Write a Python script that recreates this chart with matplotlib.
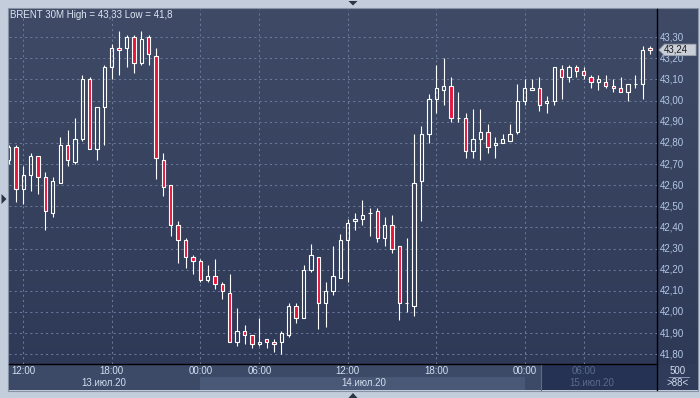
import matplotlib
matplotlib.use("Agg")
import matplotlib.pyplot as plt
import numpy as np
from matplotlib.patches import Rectangle, Polygon
from matplotlib.transforms import blended_transform_factory

# ---------------- data ----------------
opens = [42.72, 42.78, 42.58, 42.65, 42.74, 42.64, 42.47, 42.61, 42.79, 42.71,
         42.82, 43.10, 42.77, 42.97, 43.16, 43.25, 43.25, 43.30, 43.18, 43.30,
         43.21, 42.72, 42.60, 42.41, 42.34, 42.26, 42.24, 42.15, 42.17, 42.13,
         42.09, 41.86, 41.91, 41.89, 41.85, 41.87, 41.86, 41.86, 41.89, 42.03,
         41.97, 42.20, 42.26, 42.04, 42.10, 42.16, 42.34, 42.43, 42.44, 42.47,
         42.48, 42.35, 42.41, 42.31, 42.04, 42.03, 42.62, 42.84, 43.01, 43.05,
         43.07, 42.92, 42.92, 42.76, 42.82, 42.85, 42.79, 42.80, 42.81, 42.85,
         43.00, 43.05, 43.06, 42.99, 43.00, 43.15, 43.11, 43.16, 43.14, 43.11,
         43.09, 43.09, 43.07, 43.06, 43.04, 43.08, 43.08, 43.25]
highs = [42.79, 42.79, 42.69, 42.75, 42.74, 42.66, 42.64, 42.83, 42.86, 42.92,
         43.12, 43.11, 42.97, 43.17, 43.27, 43.33, 43.31, 43.31, 43.33, 43.31,
         43.25, 42.75, 42.60, 42.43, 42.35, 42.27, 42.25, 42.22, 42.25, 42.14,
         42.18, 42.02, 41.94, 41.89, 41.97, 41.87, 41.87, 41.91, 42.04, 42.04,
         42.22, 42.32, 42.26, 42.14, 42.31, 42.37, 42.44, 42.47, 42.53, 42.49,
         42.49, 42.45, 42.46, 42.31, 42.35, 42.84, 42.88, 43.03, 43.17, 43.20,
         43.11, 43.04, 42.94, 42.96, 42.96, 42.89, 42.83, 42.84, 42.89, 43.08,
         43.10, 43.10, 43.11, 43.02, 43.16, 43.17, 43.17, 43.17, 43.16, 43.12,
         43.12, 43.12, 43.10, 43.11, 43.08, 43.12, 43.26, 43.26]
lows = [42.70, 42.52, 42.51, 42.57, 42.56, 42.39, 42.45, 42.61, 42.69, 42.70,
        42.81, 42.77, 42.72, 42.79, 43.10, 43.12, 43.16, 43.13, 43.17, 43.17,
        42.63, 42.55, 42.36, 42.23, 42.21, 42.18, 42.14, 42.14, 42.11, 42.06,
        41.86, 41.84, 41.85, 41.83, 41.84, 41.83, 41.81, 41.80, 41.88, 41.95,
        41.97, 42.19, 41.92, 41.93, 42.08, 42.16, 42.14, 42.39, 42.41, 42.36,
        42.33, 42.31, 42.28, 41.96, 42.00, 41.98, 42.43, 42.80, 42.94, 42.98,
        42.90, 42.90, 42.73, 42.73, 42.72, 42.75, 42.73, 42.80, 42.81, 42.84,
        42.98, 43.05, 42.95, 42.94, 42.98, 43.01, 43.09, 43.11, 43.10, 43.06,
        43.05, 43.06, 43.04, 43.04, 43.00, 43.06, 43.01, 43.22]
closes = [42.78, 42.58, 42.65, 42.74, 42.64, 42.48, 42.62, 42.79, 42.72, 42.82,
          43.10, 42.77, 42.97, 43.16, 43.25, 43.24, 43.30, 43.18, 43.29, 43.22,
          42.73, 42.59, 42.41, 42.34, 42.26, 42.24, 42.15, 42.17, 42.13, 42.10,
          41.86, 41.91, 41.89, 41.85, 41.86, 41.86, 41.85, 41.90, 42.03, 41.97,
          42.20, 42.27, 42.04, 42.10, 42.17, 42.34, 42.42, 42.44, 42.46, 42.47,
          42.35, 42.41, 42.30, 42.04, 42.04, 42.61, 42.84, 43.01, 43.06, 43.07,
          42.92, 42.92, 42.76, 42.82, 42.85, 42.78, 42.80, 42.82, 42.84, 43.00,
          43.06, 43.06, 42.98, 43.00, 43.16, 43.11, 43.16, 43.14, 43.12, 43.09,
          43.10, 43.07, 43.06, 43.04, 43.08, 43.08, 43.24, 43.24]

price_ticks = [41.80, 41.90, 42.00, 42.10, 42.20, 42.30, 42.40, 42.50,
               42.60, 42.70, 42.80, 42.90, 43.00, 43.10, 43.20, 43.30]
price_labels = ["41,80", "41,90", "42,00", "42,10", "42,20", "42,30", "42,40", "42,50",
                "42,60", "42,70", "42,80", "42,90", "43,00", "43,10", "43,20", "43,30"]
time_tick_idx = [2, 14, 26, 34, 46, 58, 70, 78]
time_tick_labels = ["12:00", "18:00", "00:00", "06:00", "12:00", "18:00", "00:00", "06:00"]
date_labels = ["13.июл.20", "14.июл.20", "15.июл.20"]
date_idx = [12.95, 48.2, 79.1]
last_price = 43.24
last_label = "43,24"
title = "BRENT 30M High = 43,33 Low = 41,8"
bars_label = "500"
count_label = ">88<"

# ---------------- style ----------------
W, H = 700, 398
FRAME = "#c3cddb"
TOP_C = np.array([63, 75, 102]) / 255
BOT_C = np.array([45, 56, 86]) / 255
GRID = "#6a7999"
RED = "#e8143c"
LBL = "#d2def0"
AXLBL = "#b4c8e6"
FONT = ["Liberation Sans", "DejaVu Sans"]
FS = 7.0

fig = plt.figure(figsize=(W / 100, H / 100), dpi=100)
fig.patch.set_facecolor(FRAME)

bg = fig.add_axes([0, 0, 1, 1])
bg.set_xlim(0, W)
bg.set_ylim(H, 0)
bg.axis("off")

# gradient background for chart + right axis
grad = np.linspace(0, 1, 256)[:, None]
img = TOP_C[None, None, :] * (1 - grad[:, :, None]) + BOT_C[None, None, :] * grad[:, :, None]
bg.imshow(img, extent=(8.5, 697, 390, 8.5), aspect="auto", interpolation="bilinear", zorder=0)
bg.add_patch(Rectangle((7.5, 7.5), 690, 383, fill=False, edgecolor="#8792a4", lw=0.8, zorder=1))

# bottom axis bands
bg.add_patch(Rectangle((8.5, 364), 532.5, 26, facecolor="#3c4967", edgecolor="none", zorder=1))
bg.add_patch(Rectangle((200.3, 377), 324.5, 13, facecolor="#4a5877", edgecolor="none", zorder=1))
bg.add_patch(Rectangle((541, 364), 116, 26, facecolor="#253253", edgecolor="none", zorder=1))
bg.plot([541, 541], [364, 390], color="#5f6b80", lw=0.8, zorder=2)
bg.add_patch(Rectangle((657, 364), 40, 26, facecolor="#2f3b59", edgecolor="none", zorder=1))
bg.plot([8.5, 657], [363.5, 363.5], color="black", lw=1, zorder=3)
bg.plot([657, 657], [8.5, 390], color="black", lw=1, zorder=3)

# frame triangles
bg.add_patch(Polygon([(1.5, 194), (1.5, 204), (6.5, 199)], closed=True, facecolor="#2a3447", edgecolor="none"))
bg.add_patch(Polygon([(348.5, 1), (357.5, 1), (353, 5.5)], closed=True, facecolor="#2a3447", edgecolor="none"))
bg.add_patch(Polygon([(348.5, 398), (357.5, 398), (353, 393)], closed=True, facecolor="#2a3447", edgecolor="none"))

# title
bg.text(10.5, 15.5, title, ha="left", va="center", color="#dde6f4", fontsize=FS, family=FONT, zorder=5)

# ---------------- main chart ----------------
ax = fig.add_axes([8.5 / W, 1 - 363.5 / H, (657 - 8.5) / W, (363.5 - 8.5) / H])
ax.patch.set_alpha(0)
ax.set_xlim(-0.007, 87.94)
ax.set_ylim(41.756, 43.436)
for s in ax.spines.values():
    s.set_visible(False)
ax.set_xticks([])
ax.set_yticks([])

for p in price_ticks:
    ax.axhline(p, color=GRID, lw=0.75, ls=(0, (2, 3)), zorder=1)
for t in time_tick_idx:
    ax.axvline(t, color=GRID, lw=0.75, ls=(0, (2, 3)), zorder=1)

x = np.arange(len(opens))
o = np.array(opens); h = np.array(highs); l = np.array(lows); c = np.array(closes)
top = np.maximum(o, c)
bot = np.minimum(o, c)
ax.vlines(x, top, h, color="white", lw=0.8, zorder=3)
ax.vlines(x, l, bot, color="white", lw=0.8, zorder=3)
bear = c < o
faces = [RED if b else "none" for b in bear]
ax.bar(x, top - bot, bottom=bot, width=0.45, color=faces, edgecolor="white", linewidth=0.8, zorder=4)

# right price labels
ytr = ax.get_yaxis_transform()
for p, lab in zip(price_ticks, price_labels):
    ax.text(1.0045, p, lab, transform=ytr, ha="left", va="center", color=AXLBL,
            fontsize=FS, family=FONT, clip_on=False, zorder=5)

# last-price tag (x in figure pixels, y in price)
bt = blended_transform_factory(bg.transData, ax.transData)
tag = Polygon([(659, last_price), (664.5, last_price + 0.027), (696, last_price + 0.027),
               (696, last_price - 0.027), (664.5, last_price - 0.027)], closed=True,
              transform=bt, facecolor="#c9ced7", edgecolor="#9aa2ae", lw=0.6, zorder=10, clip_on=False)
ax.add_patch(tag)
ax.text(664, last_price, last_label, transform=bt, ha="left", va="center", color="#1c1c1c",
        fontsize=FS, family=FONT, zorder=11, clip_on=False)

# time / date labels (x in candle index, y in figure pixels)
xt = blended_transform_factory(ax.transData, bg.transData)
for i, (ti, lab) in enumerate(zip(time_tick_idx, time_tick_labels)):
    col = "#5c6b89" if i == len(time_tick_idx) - 1 else LBL
    ax.text(ti, 371, lab, transform=xt, ha="center", va="center", color=col,
            fontsize=FS, family=FONT, zorder=5, clip_on=False)
for j, (di, lab) in enumerate(zip(date_idx, date_labels)):
    col = "#5c6b89" if j == len(date_idx) - 1 else LBL
    ax.text(di, 382.5, lab, transform=xt, ha="center", va="center", color=col,
            fontsize=FS, family=FONT, zorder=5, clip_on=False)

# bottom-right box
bg.text(678, 370.5, bars_label, ha="center", va="center", color=LBL, fontsize=FS, family=FONT, zorder=5)
bg.plot([668.5, 688.5], [377, 377], color="#8a97b0", lw=0.7, zorder=5)
bg.text(678, 382.5, count_label, ha="center", va="center", color=LBL, fontsize=FS, family=FONT, zorder=5)

fig.savefig("out.png", dpi=100, facecolor=fig.get_facecolor())
